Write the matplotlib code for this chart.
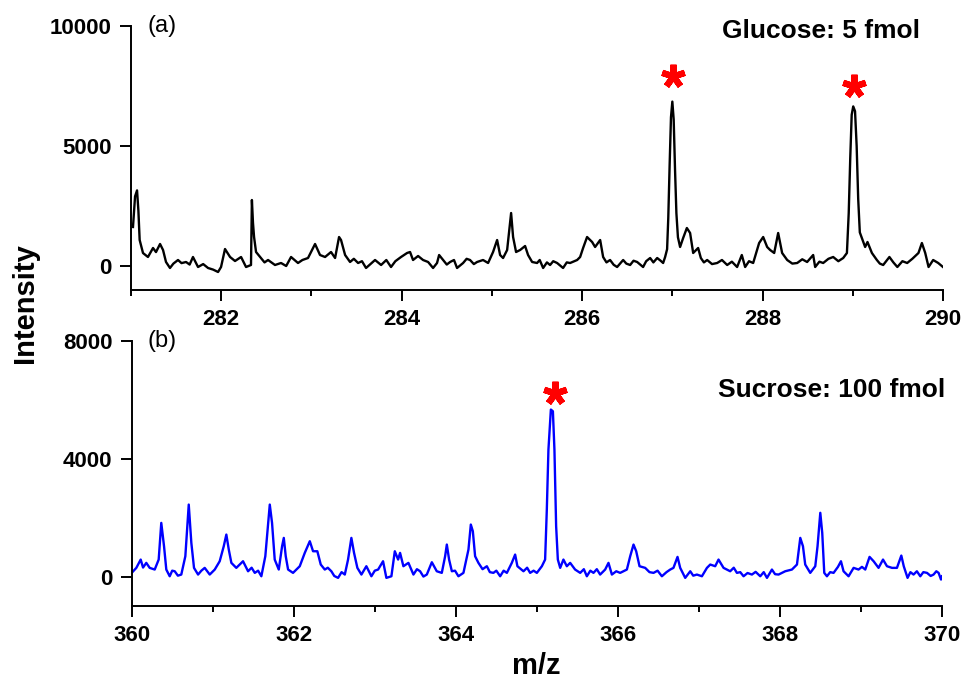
import matplotlib
matplotlib.use("Agg")
import matplotlib.pyplot as plt

plt.rcParams['font.family'] = ['Liberation Sans', 'DejaVu Sans']

# ---------------- data: panel (a) glucose ----------------
mz_a = [281.022, 281.045, 281.067, 281.082, 281.096, 281.133, 281.188, 281.244, 281.277, 281.322,
        281.355, 281.388, 281.432, 281.47, 281.521, 281.56, 281.610, 281.65, 281.687, 281.743, 281.80,
        281.854, 281.91, 281.965, 281.998, 282.042, 282.098, 282.153, 282.220, 282.275, 282.330,
        282.340, 282.352, 282.364, 282.386, 282.441, 282.48, 282.519, 282.596, 282.663, 282.72, 282.774,
        282.851, 282.90, 282.962, 283.040, 283.095, 283.151, 283.217, 283.262, 283.306, 283.328, 283.373,
        283.428, 283.47, 283.517, 283.56, 283.605, 283.705, 283.772, 283.83, 283.882, 283.93, 283.993, 284.060, 284.093,
        284.126, 284.182, 284.237, 284.293, 284.348, 284.392, 284.415, 284.459, 284.50, 284.537, 284.58, 284.614,
        284.681, 284.72, 284.758, 284.80, 284.836, 284.902, 284.958, 285.013, 285.058, 285.091, 285.124, 285.169,
        285.213, 285.235, 285.268, 285.313, 285.368, 285.401, 285.446, 285.501, 285.53, 285.568, 285.61, 285.645,
        285.68, 285.723, 285.789, 285.83, 285.867, 285.945, 285.978, 286.011, 286.055, 286.111, 286.144, 286.200,
        286.233, 286.27, 286.310, 286.35, 286.388, 286.455, 286.49, 286.532, 286.57, 286.610, 286.676, 286.71, 286.754,
        286.79, 286.832, 286.87, 286.898, 286.920, 286.942, 286.955, 286.970, 286.985, 287.000, 287.015, 287.030,
        287.045, 287.062, 287.086, 287.120, 287.161, 287.197, 287.231, 287.286, 287.316, 287.35, 287.386, 287.44,
        287.497, 287.55, 287.608, 287.66, 287.718, 287.770, 287.807, 287.85, 287.896, 287.962, 288.007, 288.051,
        288.084, 288.129, 288.173, 288.217, 288.273, 288.33, 288.384, 288.44, 288.494, 288.561, 288.583, 288.63,
        288.672, 288.73, 288.783, 288.84, 288.894, 288.935, 288.955, 288.972, 288.988, 289.005, 289.025, 289.043,
        289.060, 289.078, 289.101, 289.137, 289.163, 289.212, 289.267, 289.30, 289.337, 289.406, 289.45, 289.494,
        289.55, 289.603, 289.66, 289.728, 289.766, 289.803, 289.840, 289.891, 289.947, 290.0]
int_a = [1625, 2900, 3150, 2300, 1083, 540, 375, 750, 580, 917,
         667, 167, -83, 100, 250, 120, 167, 60, 375, -42, 80,
         -83, -150, -250, -42, 708, 375, 208, 375, -42, 42,
         2750, 1800, 1208, 583, 333, 150, 250, 42, 125, 0, 375,
         125, 250, 333, 917, 458, 375, 583, 333, 1208, 1083, 458,
         167, 300, 125, 200, -83, 250, 42, 250, -42, 200, 375, 542, 583,
         250, 417, 250, 167, -83, 125, 458, 250, 60, 167, 250, -83,
         125, 300, 250, 80, 167, 250, 125, 583, 1083, 458, 333, 667,
         2208, 1208, 583, 667, 833, 458, 167, 125, 250, -83, 150, 42,
         200, 125, -83, 150, 125, 250, 375, 750, 1208, 1000, 792, 1083,
         375, 150, 250, 50, -42, 250, 100, 42, 220, 167, -42, 200, 333,
         150, 333, 220, 125, 375, 700, 2000, 4200, 6200, 6850, 6100, 4000,
         2200, 1200, 792, 1167, 1583, 1375, 542, 750, 333, 150, 250, 80,
         125, 250, 42, 180, -42, 458, -42, 200, 125, 958, 1208, 792,
         667, 542, 1375, 542, 250, 100, 125, 280, 167, 458, -42, 180,
         125, 300, 375, 200, 333, 542, 2200, 4500, 6300, 6650, 6450, 5000,
         2800, 1400, 1167, 792, 1000, 542, 250, 100, 42, 375, 150, -42,
         200, 125, 300, 542, 958, 542, -42, 250, 125, -42]

# ---------------- data: panel (b) sucrose ----------------
mz_b = [360.0, 360.057, 360.111, 360.140, 360.180, 360.222, 360.284, 360.333, 360.365, 360.399,
        360.427, 360.469, 360.50, 360.531, 360.57, 360.612, 360.662, 360.704, 360.736, 360.769, 360.819, 360.86, 360.901,
        360.963, 361.025, 361.086, 361.136, 361.168, 361.198, 361.230, 361.291, 361.374, 361.436,
        361.48, 361.519, 361.56, 361.600, 361.649, 361.704, 361.732, 361.765, 361.815, 361.856, 361.877, 361.901,
        361.930, 361.991, 362.074, 362.136, 362.198, 362.238, 362.291, 362.333, 362.383, 362.42, 362.464,
        362.50, 362.547, 362.59, 362.630, 362.670, 362.711, 362.744, 362.785, 362.835, 362.896, 362.958, 363.0, 363.041,
        363.102, 363.143, 363.205, 363.247, 363.288, 363.312, 363.353, 363.415, 363.477, 363.52, 363.559,
        363.60, 363.642, 363.704, 363.765, 363.827, 363.868, 363.889, 363.917, 363.951, 363.99, 364.032, 364.094,
        364.156, 364.185, 364.210, 364.238, 364.279, 364.33, 364.383, 364.42, 364.464, 364.50, 364.547, 364.59, 364.630, 364.691,
        364.732, 364.760, 364.835, 364.88, 364.917, 364.96, 365.000, 365.062, 365.102, 365.123, 365.143, 365.173,
        365.198, 365.217, 365.238, 365.259, 365.288, 365.328, 365.370, 365.411, 365.472, 365.535,
        365.58, 365.617, 365.66, 365.699, 365.74, 365.781, 365.843, 365.884, 365.926, 365.98, 366.028, 366.111, 366.152, 366.193,
        366.226, 366.267, 366.337, 366.39, 366.440, 366.49, 366.543, 366.60, 366.646, 366.686, 366.736, 366.769, 366.831,
        366.893, 366.93, 366.975, 367.037, 367.099, 367.140, 367.201, 367.242, 367.304, 367.386, 367.43, 367.469,
        367.51, 367.551, 367.60, 367.654, 367.70, 367.757, 367.80, 367.840, 367.901, 367.94, 367.983, 368.065, 368.148, 368.210, 368.251,
        368.284, 368.312, 368.374, 368.436, 368.464, 368.498, 368.522, 368.547, 368.580, 368.62, 368.662,
        368.716, 368.753, 368.785, 368.847, 368.909, 368.970, 369.012, 369.053, 369.106, 369.156,
        369.217, 369.272, 369.321, 369.383, 369.444, 369.498, 369.528, 369.575, 369.61, 369.649, 369.69, 369.732,
        369.77, 369.815, 369.86, 369.896, 369.93, 369.958, 369.988, 370.0]
int_b = [125, 295, 577, 306, 465, 295, 238, 577, 1823, 1030,
         238, 10, 200, 180, 30, 68, 690, 2445, 1144, 295, 68, 200, 295,
         68, 238, 520, 1030, 1426, 917, 465, 295, 520, 180,
         300, 125, 200, 10, 690, 2445, 1823, 577, 238, 1030, 1313, 690,
         238, 125, 351, 804, 1200, 860, 860, 408, 238, 300, 180,
         20, -45, 150, 68, 577, 1313, 804, 295, 68, 351, 10, 200, 238,
         520, -45, 10, 860, 577, 804, 351, 465, 68, 250, 180,
         0, 68, 486, 180, 125, 690, 1087, 577, 180, 200, 10, 125,
         917, 1766, 1540, 690, 465, 250, 351, 150, 125, 200, 10, 200, 125, 465,
         747, 351, 180, 300, 125, 200, 125, 351, 577, 2275, 4313, 5671,
         5614, 4313, 1708, 577, 295, 577, 351, 465, 238, 125,
         250, 10, 200, 125, 250, 68, 238, 465, 68, 180, 125, 238, 690, 1087,
         860, 351, 295, 150, 125, 200, 10, 150, 238, 295, 668, 295, -45,
         180, 30, 68, 10, 295, 408, 351, 577, 295, 180, 300, 125,
         150, 10, 120, 68, 160, 10, 150, -45, 238, 80, 68, 180, 238, 408, 1313,
         1030, 408, 125, 351, 1030, 2165, 1483, 125, 10, 150, 125,
         329, 520, 180, 10, 295, 238, 329, 238, 668, 520,
         295, 577, 351, 295, 295, 713, 351, -45, 150, 68, 180, 10,
         150, 125, 20, 68, 180, 125, -102, 10]

# marked peaks (asterisks)
star_a_mz = [287.01, 289.015]
star_a_int = [7900, 7500]
star_b_mz = [365.226]
star_b_int = [6240]

xticks_a = [282, 284, 286, 288, 290]
yticks_a = [0, 5000, 10000]
xticks_b = [360, 362, 364, 366, 368, 370]
yticks_b = [0, 4000, 8000]

fig = plt.figure(figsize=(9.68, 6.8), dpi=100)
ax1 = fig.add_axes([131 / 968, 1 - 290 / 680, 812 / 968, 264 / 680])
ax2 = fig.add_axes([131.7 / 968, 1 - 606 / 680, 810.3 / 968, 265 / 680])

ax1.plot(mz_a, int_a, color='black', lw=1.7)
ax2.plot(mz_b, int_b, color='#0000FF', lw=1.7)

star_kw = dict(marker=(5, 2, 0), color='#FF0000', ms=17, mew=4.5, ls='none')
ax1.plot(star_a_mz, star_a_int, **star_kw)
ax2.plot(star_b_mz, star_b_int, **star_kw)

for ax, xt, yt, xl, yl in [(ax1, xticks_a, yticks_a, (281, 290), (-1000, 10000)),
                           (ax2, xticks_b, yticks_b, (360, 370), (-1000, 8000))]:
    ax.set_xlim(*xl)
    ax.set_ylim(*yl)
    ax.set_xticks(xt)
    ax.set_xticks([v + 1 for v in xt[:-1]] + ([xt[0] - 1] if ax is ax1 else []), minor=True)
    ax.set_yticks(yt)
    ax.spines['top'].set_visible(False)
    ax.spines['right'].set_visible(False)
    for s in ('left', 'bottom'):
        ax.spines[s].set_linewidth(1.4)
    ax.tick_params(which='major', direction='out', length=8, width=1.4, pad=6,
                   labelsize=16)
    ax.tick_params(which='minor', direction='out', length=4.5, width=1.4)
    for lab in ax.get_xticklabels() + ax.get_yticklabels():
        lab.set_fontweight('bold')

ax1.text(0.02, 1.0, '(a)', transform=ax1.transAxes, fontsize=17, va='center', ha='left')
ax2.text(0.02, 1.0, '(b)', transform=ax2.transAxes, fontsize=17, va='center', ha='left')
ax1.text(0.9717, 0.98, 'Glucose: 5 fmol', transform=ax1.transAxes, fontsize=19,
         fontweight='bold', ha='right', va='center')
ax2.text(1.0037, 0.815, 'Sucrose: 100 fmol', transform=ax2.transAxes, fontsize=19,
         fontweight='bold', ha='right', va='center')

fig.text(25 / 968, 1 - 303 / 680, 'Intensity', rotation=90, fontsize=21,
         fontweight='bold', ha='center', va='center')
fig.text(536 / 968, 1 - 666 / 680, 'm/z', fontsize=21, fontweight='bold',
         ha='center', va='center')

fig.savefig('out.png', dpi=100)
